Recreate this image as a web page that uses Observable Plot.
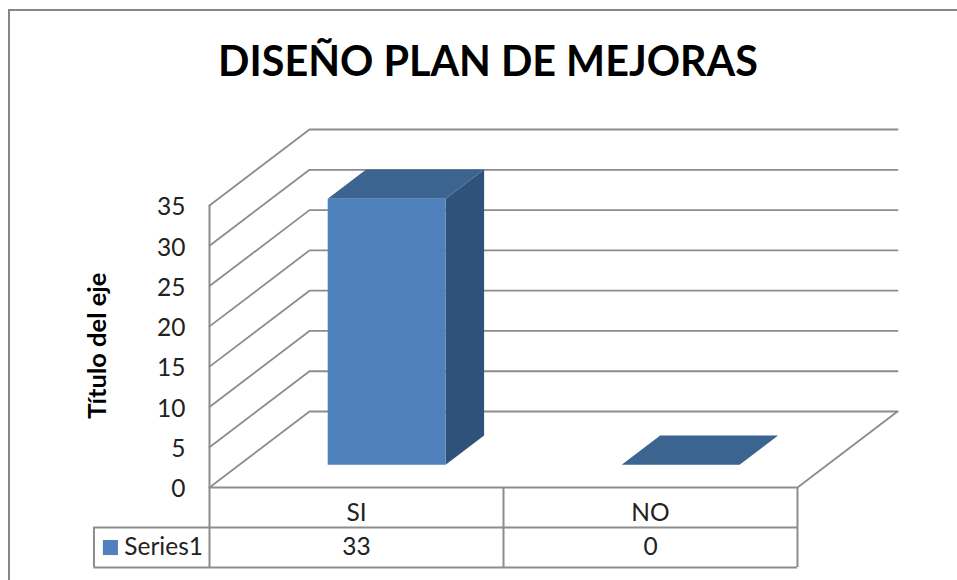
<!DOCTYPE html>
<html><head><meta charset="utf-8">
<script src="https://cdn.jsdelivr.net/npm/d3@7"></script>
<script src="https://cdn.jsdelivr.net/npm/@observablehq/plot@0.6"></script>
<style>
html,body{margin:0;padding:0;background:#fff;overflow:hidden}
#page{position:relative;width:957px;height:580px;overflow:hidden}
#frame{position:absolute;left:8px;top:9px;right:-4px;bottom:-4px;border:2px solid #868686;pointer-events:none}
h1{margin:0;height:110px;width:957px;box-sizing:border-box;padding-left:19px;text-align:center;font:bold 41.3px/121px Lato,sans-serif;color:#000}
svg{display:block}
</style></head><body>
<div id="page"><div id="frame"></div><h1>DISEÑO PLAN DE MEJORAS</h1><div id="chart"></div></div>
<script>
const title = "DISEÑO PLAN DE MEJORAS";
const categories = ["SI", "NO"];
const seriesName = "Series1";
const values = [33, 0];
const yTicks = [0, 5, 10, 15, 20, 25, 30, 35];
const axisTitle = "Título del eje";
const gridColor = "#8c8c8c";
const colors = {front: "#4F81BD", side: "#2F527B", top: "#3C6490"};

// pseudo-3D: a depth d in [0,1] shifts a point along both data axes
const shiftX = 100 / 294, shiftY = 9.43;
const P = (u, v, d = 0) => ({x: u + d * shiftX, y: v + d * shiftY});
const barL = 0.3, barR = 0.701, dNear = 0.30, dFar = 0.685;
const rowA = -4.96, rowB = -9.93, tableLeft = -0.393;

const wall = yTicks.flatMap(v => [P(0, v, 0), P(0, v, 1), P(2, v, 1)].map(p => ({...p, z: v})));
const floor = [P(0, 0, 0), P(2, 0, 0), P(2, 0, 1)];
const face = (fn) => categories.flatMap((c, i) => fn(i, values[i]).map(p => ({...p, z: c})));
const front = face((i, v) => [P(i + barL, 0, dNear), P(i + barR, 0, dNear), P(i + barR, v, dNear), P(i + barL, v, dNear)]);
const side = face((i, v) => [P(i + barR, 0, dNear), P(i + barR, 0, dFar), P(i + barR, v, dFar), P(i + barR, v, dNear)]);
const top_ = face((i, v) => [P(i + barL, v, dNear), P(i + barR, v, dNear), P(i + barR, v, dFar), P(i + barL, v, dFar)]);
const line = {x: "x", y: "y", z: "z"};
const font = 24.5;

const plot = Plot.plot({
  width: 957, height: 470,
  marginLeft: 209, marginRight: 160, marginTop: 95, marginBottom: 93,
  style: {fontFamily: "Lato, sans-serif", background: "transparent", overflow: "visible"},
  x: {domain: [0, 2], axis: null},
  y: {domain: [0, 35]},
  marks: [
    Plot.line(wall, {...line, stroke: gridColor, strokeWidth: 1.8, curve: "linear"}),
    Plot.line(floor, {x: "x", y: "y", stroke: gridColor, strokeWidth: 1.8}),
    Plot.ruleX([0], {y1: rowB, y2: 35, stroke: gridColor, strokeWidth: 2}),
    Plot.ruleX([1, 2], {y1: rowB, y2: 0, stroke: gridColor, strokeWidth: 2}),
    Plot.ruleX([tableLeft], {y1: rowB, y2: rowA, stroke: gridColor, strokeWidth: 2}),
    Plot.ruleY([rowA, rowB], {x1: tableLeft, x2: 2, stroke: gridColor, strokeWidth: 2}),
    Plot.line(side, {...line, fill: colors.side, stroke: "none"}),
    Plot.line(top_, {...line, fill: colors.top, stroke: "none"}),
    Plot.line(front, {...line, fill: colors.front, stroke: "none"}),
    Plot.axisY({ticks: yTicks, tickSize: 0, tickPadding: 24, dy: 2, label: null, fontSize: font, fill: "#222"}),
    Plot.text([axisTitle], {x: [-0.381], y: [17.6], rotate: -90, fontSize: 25.5, fontWeight: "bold", fill: "#000"}),
    Plot.text(categories, {x: (d, i) => i + 0.5, y: -3.2, fontSize: font, fill: "#222"}),
    Plot.text(values, {x: (d, i) => i + 0.5, y: -7.45, text: d => String(d), fontSize: font, fill: "#222"}),
    Plot.dot([seriesName], {x: [-0.337], y: [-7.45], symbol: "square", r: 8.5, fill: colors.front}),
    Plot.text([seriesName], {x: [-0.29], y: [-7.45], textAnchor: "start", fontSize: font, fill: "#222"})
  ]
});
document.getElementById("chart").append(plot);
</script>
</body></html>
